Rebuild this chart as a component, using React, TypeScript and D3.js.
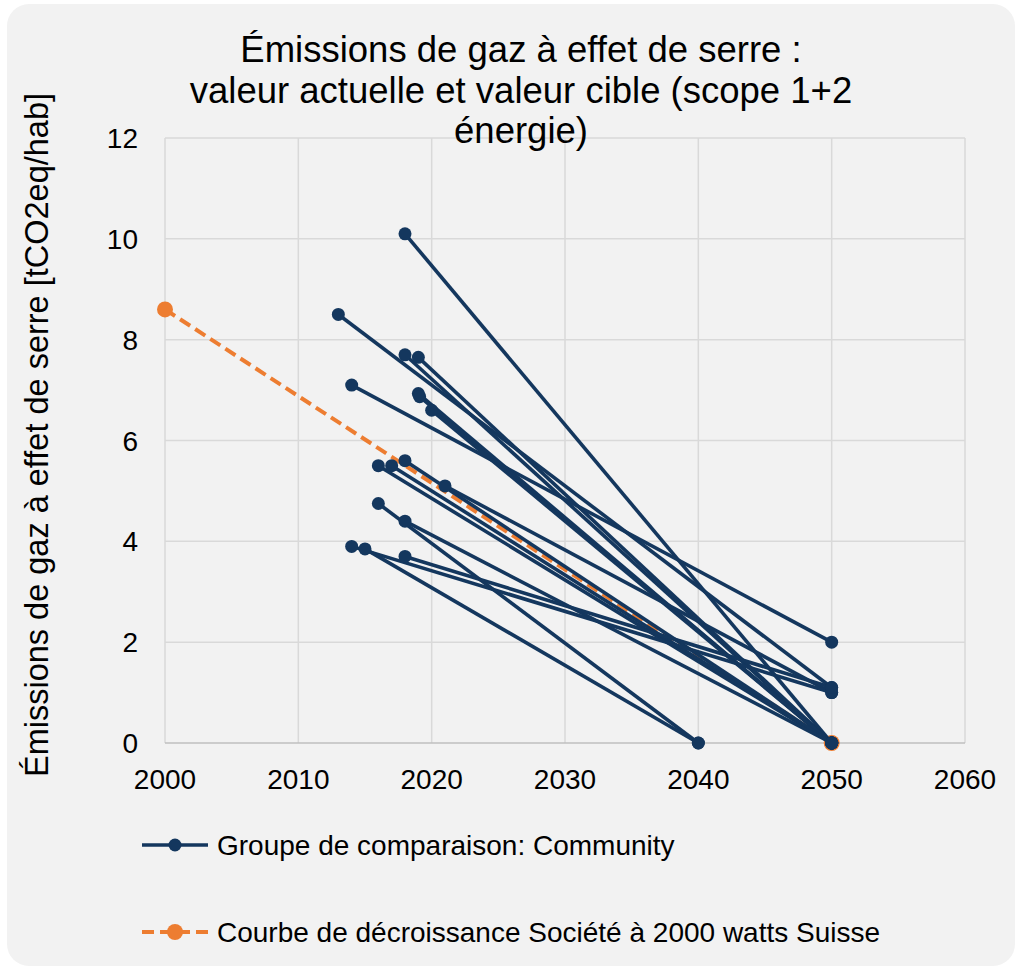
import React from "react";
import * as d3 from "d3";

const titleLines = [
  "Émissions de gaz à effet de serre :",
  "valeur actuelle et valeur cible (scope 1+2",
  "énergie)",
];
const yAxisTitle = "Émissions de gaz à effet de serre [tCO2eq/hab]";
const xTicks = [2000, 2010, 2020, 2030, 2040, 2050, 2060];
const yTicks = [0, 2, 4, 6, 8, 10, 12];

// Community: current year / value -> target year / value
const startYears = [2018, 2013, 2018, 2019, 2014, 2019, 2019.1, 2020, 2016, 2017, 2018, 2021, 2016, 2018, 2014, 2015, 2018];
const startValues = [10.1, 8.5, 7.7, 7.65, 7.1, 6.93, 6.87, 6.6, 5.5, 5.5, 5.6, 5.1, 4.75, 4.4, 3.9, 3.85, 3.7];
const targetYears = [2050, 2050, 2050, 2050, 2050, 2050, 2050, 2050, 2050, 2050, 2050, 2050, 2040, 2050, 2050, 2040, 2050];
const targetValues = [0, 1.1, 0, 0, 2.0, 0, 0, 0, 0, 0, 0, 1.0, 0, 0, 1.0, 0, 1.1];

const refYears = [2000, 2050];
const refValues = [8.6, 0];

const legendLabels = [
  "Groupe de comparaison: Community",
  "Courbe de décroissance Société à 2000 watts Suisse",
];

const BLUE = "#14375e";
const ORANGE = "#ed7d31";
const FONT = "'Liberation Sans', Arial, sans-serif";

export default function App() {
  const W = 1022, H = 970;
  const x = d3.scaleLinear().domain([2000, 2060]).range([165, 965]);
  const y = d3.scaleLinear().domain([0, 12]).range([743, 138]);
  const line = d3.line<[number, number]>().x((d) => x(d[0])).y((d) => y(d[1]));

  const segs = startYears.map((sy, i) => [
    [sy, startValues[i]],
    [targetYears[i], targetValues[i]],
  ] as [number, number][]);
  const refPts = refYears.map((yr, i) => [yr, refValues[i]] as [number, number]);

  return (
    <svg width={W} height={H} style={{ position: "absolute", left: 0, top: 0 }} fontFamily={FONT}>
      <rect x={0} y={0} width={W} height={H} fill="#ffffff" />
      <rect x={7} y={4} width={1008} height={962} rx={22} fill="#f2f2f2" />
      {/* grid */}
      {yTicks.filter((v) => v > 0).map((v) => (
        <line key={"gy" + v} x1={x(2000)} x2={x(2060)} y1={y(v)} y2={y(v)} stroke="#d9d9d9" strokeWidth={1.5} />
      ))}
      {xTicks.map((v) => (
        <line key={"gx" + v} x1={x(v)} x2={x(v)} y1={y(0)} y2={y(12)} stroke="#d9d9d9" strokeWidth={1.5} />
      ))}
      <line x1={x(2000)} x2={x(2060)} y1={y(0)} y2={y(0)} stroke="#bfbfbf" strokeWidth={1.5} />
      {/* title */}
      {titleLines.map((t, i) => (
        <text key={i} x={521} y={62 + i * 40.5} textAnchor="middle" fontSize={36.5} fill="#000">
          {t}
        </text>
      ))}
      {/* tick labels */}
      {yTicks.map((v) => (
        <text key={"ty" + v} x={138} y={y(v) + 10} textAnchor="end" fontSize={28} fill="#000">
          {v}
        </text>
      ))}
      {xTicks.map((v) => (
        <text key={"tx" + v} x={x(v)} y={789} textAnchor="middle" fontSize={28} fill="#000">
          {v}
        </text>
      ))}
      <text transform={`translate(48,435) rotate(-90)`} textAnchor="middle" fontSize={32.5} fill="#000">
        {yAxisTitle}
      </text>
      {/* reference series */}
      <path d={line(refPts) || ""} fill="none" stroke={ORANGE} strokeWidth={4} strokeDasharray="12,6" />
      {refPts.map((p, i) => (
        <circle key={"rp" + i} cx={x(p[0])} cy={y(p[1])} r={8} fill={ORANGE} />
      ))}
      {/* community series */}
      {segs.map((s, i) => (
        <path key={"s" + i} d={line(s) || ""} fill="none" stroke={BLUE} strokeWidth={3.6} />
      ))}
      {segs.map((s, i) =>
        s.map((p, j) => <circle key={"c" + i + "-" + j} cx={x(p[0])} cy={y(p[1])} r={6.5} fill={BLUE} />)
      )}
      {/* legend */}
      <line x1={142} x2={208} y1={845} y2={845} stroke={BLUE} strokeWidth={3.6} />
      <circle cx={175} cy={845} r={6.5} fill={BLUE} />
      <text x={217} y={855} fontSize={28} fill="#000">{legendLabels[0]}</text>
      <line x1={142} x2={208} y1={932} y2={932} stroke={ORANGE} strokeWidth={4} strokeDasharray="12,6" />
      <circle cx={175} cy={932} r={8} fill={ORANGE} />
      <text x={217} y={942} fontSize={28} fill="#000">{legendLabels[1]}</text>
    </svg>
  );
}
